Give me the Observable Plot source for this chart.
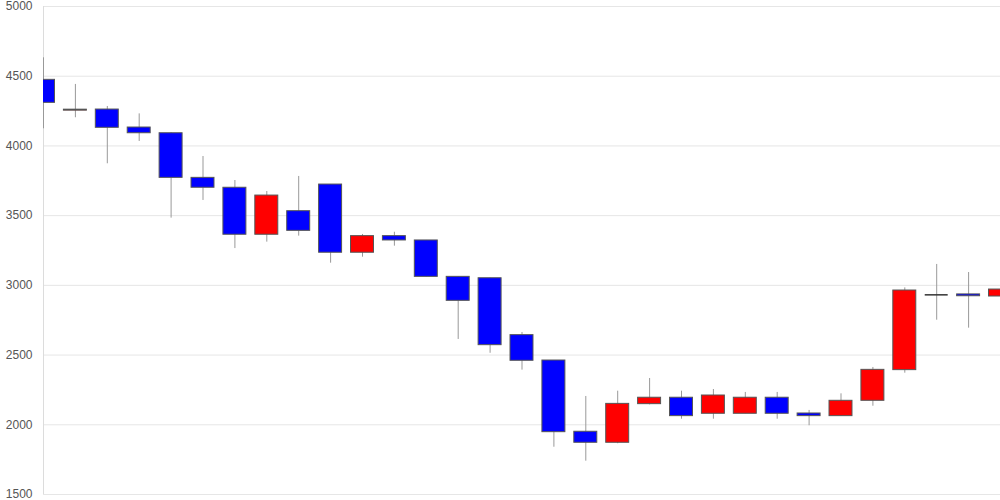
<!DOCTYPE html>
<html>
<head>
<meta charset="utf-8">
<script src="https://cdn.jsdelivr.net/npm/d3@7"></script>
<script src="https://cdn.jsdelivr.net/npm/@observablehq/plot@0.6"></script>
<style>
  html, body { margin: 0; padding: 0; background: #fff; }
  #chart { width: 1000px; height: 500px; }
</style>
</head>
<body>
<div id="chart"></div>
<script>
const open  = [4474, 4253, 4261, 4132, 4091, 3771, 3700, 3363, 3532, 3723, 3234, 3353, 3322, 3061, 3051, 2643, 2461, 1950, 1871, 2148, 2194, 2079, 2079, 2194, 2081, 2062, 2172, 2392, 2932, 2935, 2920];
const close = [4309, 4260, 4130, 4091, 3771, 3700, 3363, 3644, 3391, 3234, 3353, 3322, 3061, 2889, 2571, 2459, 1947, 1871, 2150, 2194, 2062, 2210, 2194, 2079, 2062, 2172, 2394, 2963, 2932, 2922, 2970];
const high  = [4632, 4441, 4283, 4230, 4095, 3924, 3752, 3673, 3781, 3723, 3365, 3381, 3322, 3061, 3051, 2662, 2461, 2203, 2241, 2332, 2241, 2253, 2232, 2232, 2103, 2222, 2411, 2982, 3150, 3092, 3183];
const low   = [4123, 4202, 3872, 4032, 3482, 3609, 3264, 3310, 3353, 3159, 3202, 3281, 3061, 2612, 2513, 2392, 1839, 1739, 1864, 2143, 2040, 2040, 2079, 2040, 1993, 2062, 2133, 2370, 2750, 2693, 2829];
const yTicks = [1500, 2000, 2500, 3000, 3500, 4000, 4500, 5000];

const data = open.map((o, i) => ({i, open: o, close: close[i], high: high[i], low: low[i]}));
const half = 0.36;

const chart = Plot.plot({
  width: 1000,
  height: 500,
  marginLeft: 43,
  marginRight: 0,
  marginTop: 6,
  marginBottom: 6,
  style: {fontFamily: "'Liberation Sans', Arial, sans-serif", fontSize: "12px", background: "#fff"},
  x: {type: "linear", domain: [0, data.length - 1], axis: null},
  y: {domain: [1500, 5000], axis: null},
  marks: [
    Plot.gridY(yTicks, {stroke: "#e6e6e6", strokeOpacity: 1}),
    Plot.ruleX([0], {stroke: "#dcdcdc"}),
    Plot.axisY(yTicks, {tickSize: 0, tickPadding: 11, fill: "#555", fontSize: 12, tickFormat: d => String(d)}),
    Plot.ruleX(data, {x: "i", y1: "low", y2: "high", stroke: "#999", strokeWidth: 1, clip: true}),
    Plot.rect(data.filter(d => d.open !== d.close), {
      x1: d => d.i - half,
      x2: d => d.i + half,
      y1: "open",
      y2: "close",
      fill: d => d.close > d.open ? "#ff0000" : "#0000ff",
      stroke: "#555",
      strokeWidth: 1,
      clip: true
    }),
    Plot.ruleY(data.filter(d => d.open === d.close), {
      x1: d => d.i - half,
      x2: d => d.i + half,
      y: "close",
      stroke: "#333",
      strokeWidth: 1.5,
      clip: true
    })
  ]
});
document.getElementById("chart").appendChild(chart);
</script>
</body>
</html>
